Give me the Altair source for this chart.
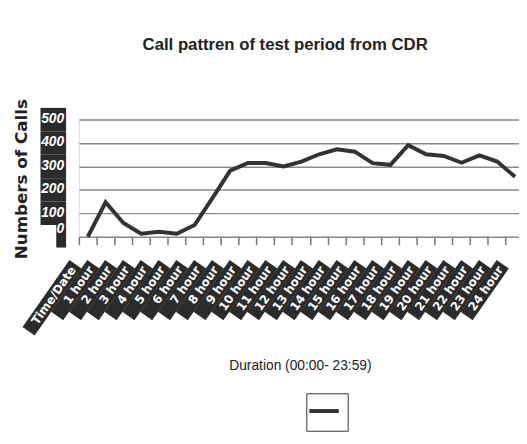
import altair as alt
import pandas as pd

labels = ["Time/Date", "1 hour", "2 hour", "3 hour", "4 hour", "5 hour", "6 hour",
          "7 hour", "8 hour", "9 hour", "10 hour", "11 hour", "12 hour", "13 hour",
          "14 hour", "15 hour", "16 hour", "17 hour", "18 hour", "19 hour", "20 hour",
          "21 hour", "22 hour", "23 hour", "24 hour"]
calls = [0, 147, 59, 13, 21, 13, 50, 165, 282, 315, 315, 300, 321, 352,
         373, 363, 314, 307, 391, 352, 345, 316, 347, 321, 256]
y_ticks = [0, 100, 200, 300, 400, 500]

df = pd.DataFrame({"label": labels, "calls": calls})
ydf = pd.DataFrame({"tick": y_ticks})

SANS = "Liberation Sans, Arial, sans-serif"
WIDE = "DejaVu Sans, Verdana, sans-serif"
BOX = "#2b2b2b"
INK = "#333333"

xscale = alt.Scale(type="band", domain=labels, range=[0, 452], paddingInner=0, paddingOuter=0)
yscale = alt.Scale(domain=[0, 500], nice=False, zero=True)

xaxis = alt.Axis(labels=False, domain=False, ticks=True, tickSize=8, tickColor="#777777",
                 tickWidth=1.5, bandPosition=0, grid=False,
                 title="Duration (00:00- 23:59)", titleFont=SANS, titleFontSize=14,
                 titleFontWeight="normal", titleColor="#222222", titleX=224.5, titleY=131,
                 titleAlign="center", titleBaseline="middle")
yaxis = alt.Axis(values=y_ticks, labels=False, ticks=False, domain=False, grid=True,
                 gridColor="#8a8a8a", gridWidth=1.5,
                 title="Numbers of Calls", titleFont=WIDE, titleFontSize=17,
                 titleFontWeight="bold", titleColor="#222222", titleAngle=270,
                 titleX=-58, titleY=60, titleAlign="center", titleBaseline="middle")

# black boxes behind y tick labels
ybox = alt.Chart(ydf).transform_calculate(
    bx="-13 - (8 * length(toString(datum.tick)) + 2)",
    bx2="-13",
    b0="datum.tick == 0 ? -46 : datum.tick - 50",
    b1="datum.tick + 50",
).mark_rect(color=BOX).encode(
    x=alt.X("bx:Q", scale=None),
    x2="bx2:Q",
    y=alt.Y("b0:Q", scale=yscale, axis=yaxis),
    y2="b1:Q",
)

ylab = alt.Chart(ydf).transform_calculate(
    ty="datum.tick == 0 ? 35 : datum.tick + 3",
).mark_text(align="right", baseline="middle", color="white", font=SANS,
            fontStyle="italic", fontWeight="bold", fontSize=14).encode(
    x=alt.value(-15),
    y=alt.Y("ty:Q", scale=yscale, axis=yaxis),
    text=alt.Text("tick:Q"),
)

# rotated black strips behind x category labels
xbox = alt.Chart(df).transform_calculate(
    path="datum.label == 'Time/Date' ? 'M0,-0.75L0,0.75L-8.3,0.75L-8.3,-0.75Z' : 'M0,-0.75L0,0.75L-6.4,0.75L-6.4,-0.75Z'"
).mark_point(filled=True, color=BOX, size=400, angle=305, opacity=1, strokeWidth=0,
             xOffset=-12.5).encode(
    x=alt.X("label:N", scale=xscale, sort=labels, axis=xaxis),
    y=alt.value(147),
    shape=alt.Shape("path:N", scale=None),
)

xlab = alt.Chart(df).mark_text(angle=305, align="right", baseline="middle", color="white",
                               font=WIDE, fontWeight="bold", fontSize=12, dx=-4,
                               xOffset=-12.5).encode(
    x=alt.X("label:N", scale=xscale, sort=labels, axis=xaxis),
    y=alt.value(147),
    text="label:N",
)

line = alt.Chart(df).mark_line(strokeWidth=4).encode(
    x=alt.X("label:N", scale=xscale, sort=labels, axis=xaxis),
    y=alt.Y("calls:Q", scale=yscale, axis=yaxis),
    color=alt.Color("s:N", scale=alt.Scale(range=[INK]),
                    legend=alt.Legend(orient="none", legendX=231, legendY=278, title=None,
                                      labelExpr="''", labelOffset=0, labelFontSize=1,
                                      symbolType="M-1,-1.3M-1,0L1,0M1,0.7", symbolSize=900,
                                      symbolStrokeWidth=4, symbolStrokeColor=INK,
                                      padding=1, strokeColor=INK, fillColor="white")),
).transform_calculate(s="'Calls'")

chart = alt.layer(ybox, ylab, xbox, xlab, line).properties(
    width=447,
    height=119,
    padding={"left": 72, "top": 110, "right": 0, "bottom": 199},
    autosize=alt.AutoSizeParams(type="none"),
    title=alt.TitleParams(text="Call pattren of test period from CDR", font=SANS,
                          fontSize=17, fontWeight="bold", color="#222222",
                          anchor="middle", frame="group", offset=32,
                          baseline="alphabetic", dx=-14),
).configure_view(stroke=None).configure(background="white")

chart.save("out.html", embed_options={"renderer": "svg", "actions": False})
